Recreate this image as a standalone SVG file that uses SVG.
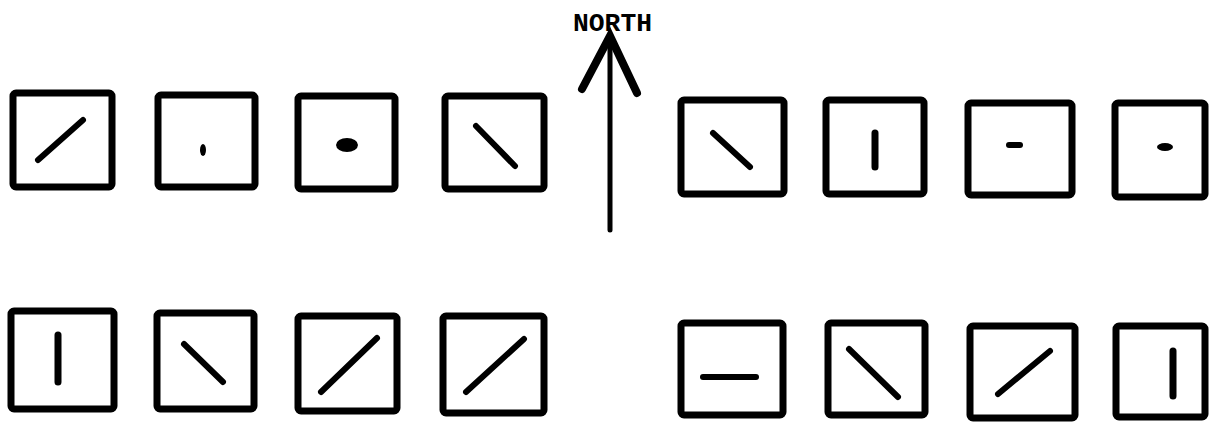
<svg xmlns="http://www.w3.org/2000/svg" width="1211" height="422" viewBox="0 0 1211 422">
<style>
.box{fill:#fff;stroke:#000;stroke-width:7;stroke-linejoin:round}
.m{stroke:#000;stroke-width:6;stroke-linecap:round;fill:none}
.b{fill:#000}
.arr{stroke:#000;fill:none;stroke-linecap:round}
.lbl{font-family:"Liberation Mono","Courier New",monospace;font-weight:bold;font-size:26px;fill:#000}
</style>
<rect width="1211" height="422" fill="#fff"/>
<g id="n1"><rect class="box" x="13" y="93" width="99" height="94" rx="3"/><line class="m" x1="38" y1="160" x2="83" y2="120"/></g>
<g id="n2"><rect class="box" x="158" y="95" width="97" height="92" rx="3"/><ellipse class="b" cx="203" cy="150" rx="3" ry="6"/></g>
<g id="n3"><rect class="box" x="298" y="96" width="97" height="93" rx="3"/><ellipse class="b" cx="347" cy="145" rx="11" ry="7"/></g>
<g id="n4"><rect class="box" x="445" y="96" width="99" height="93" rx="3"/><line class="m" x1="476" y1="126" x2="515" y2="166"/></g>
<g id="n5"><rect class="box" x="681" y="100" width="103" height="94" rx="3"/><line class="m" x1="713" y1="133" x2="750" y2="167"/></g>
<g id="n6"><rect class="box" x="826" y="100" width="98" height="94" rx="3"/><line class="m" x1="875" y1="133" x2="875" y2="167" style="stroke-width:7"/></g>
<g id="n7"><rect class="box" x="968" y="103" width="104" height="92" rx="3"/><line class="m" x1="1009" y1="145" x2="1020" y2="145"/></g>
<g id="n8"><rect class="box" x="1115" y="103" width="90" height="94" rx="3"/><ellipse class="b" cx="1165" cy="147" rx="8" ry="4"/></g>
<g id="n9"><rect class="box" x="11" y="311" width="103" height="98" rx="3"/><line class="m" x1="58" y1="335" x2="58" y2="382" style="stroke-width:7"/></g>
<g id="n10"><rect class="box" x="157" y="313" width="97" height="96" rx="3"/><line class="m" x1="184" y1="344" x2="223" y2="382"/></g>
<g id="n11"><rect class="box" x="298" y="316" width="99" height="95" rx="3"/><line class="m" x1="321" y1="392" x2="377" y2="338"/></g>
<g id="n12"><rect class="box" x="443" y="316" width="101" height="97" rx="3"/><line class="m" x1="466" y1="392" x2="524" y2="339"/></g>
<g id="n13"><rect class="box" x="681" y="323" width="102" height="92" rx="3"/><line class="m" x1="703" y1="377" x2="756" y2="377"/></g>
<g id="n14"><rect class="box" x="828" y="323" width="97" height="92" rx="3"/><line class="m" x1="849" y1="349" x2="898" y2="397"/></g>
<g id="n15"><rect class="box" x="970" y="326" width="105" height="92" rx="3"/><line class="m" x1="998" y1="394" x2="1050" y2="351"/></g>
<g id="n16"><rect class="box" x="1116" y="326" width="89" height="91" rx="3"/><line class="m" x1="1173" y1="351" x2="1173" y2="396" style="stroke-width:7"/></g>
<g id="connectors">
<line class="arr" x1="610" y1="40" x2="610" y2="230" style="stroke-width:5"/>
<polyline class="arr" points="582,89 610,36 637,93" style="stroke-width:8;stroke-linejoin:miter"/>
</g>
<g id="label"><text class="lbl" x="573" y="31" textLength="79" lengthAdjust="spacingAndGlyphs">NORTH</text></g>
</svg>
